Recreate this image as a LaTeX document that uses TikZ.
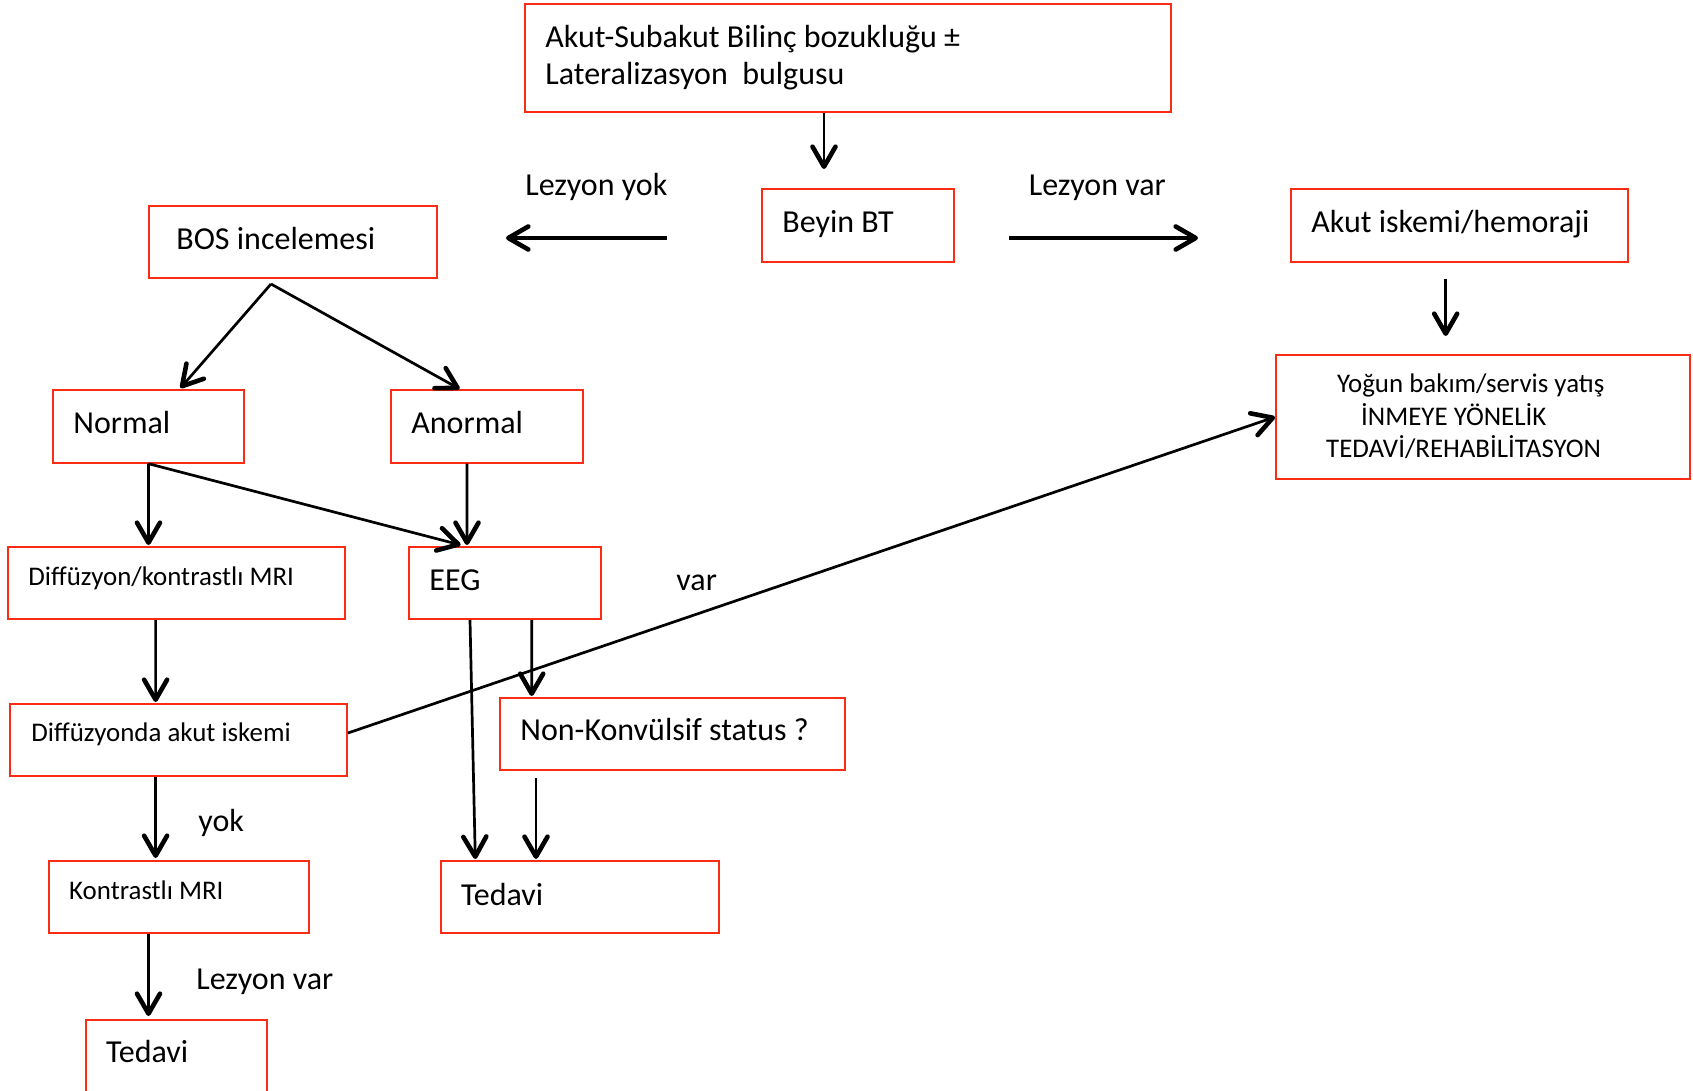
\documentclass[tikz,border=0pt]{standalone}
\usepackage{fontspec}
\setmainfont{Carlito}
\usetikzlibrary{arrows.meta,calc,fit}

\definecolor{boxred}{RGB}{250,45,20}
\newcommand{\bigfs}{\fontsize{16}{19}\selectfont}
\newcommand{\smallfs}{\fontsize{13.45}{16}\selectfont}

\tikzset{
  box/.style={draw=boxred, line width=1pt, inner sep=0pt, rectangle},
  lbl/.style={inner sep=0pt, anchor=base west, font=\bigfs},
  slbl/.style={inner sep=0pt, anchor=base west, font=\smallfs},
  arr/.style={line width=1.35pt,
    -{Straight Barb[length=10pt,width=11.5pt,line width=2.3pt,round]}},
  thickarr/.style={arr, line width=1.65pt},
}

\begin{document}
\begin{tikzpicture}[x=0.5pt,y=-0.5pt]
\useasboundingbox (0,0) rectangle (1693,1091);

% boxes
\node[box, fit={(525,4) (1171,112)}] (top) {};
\node[box, fit={(762,189) (954,262)}] (beyin) {};
\node[box, fit={(148.5,206) (437,278)}] (bos) {};
\node[box, fit={(1291,189) (1628,262)}] (akut) {};
\node[box, fit={(1276,355) (1690,479)}] (yogun) {};
\node[box, fit={(52.6,390) (244.4,462.7)}] (normal) {};
\node[box, fit={(391,390) (583,462.7)}] (anormal) {};
\node[box, fit={(8,547) (344.7,619)}] (diff1) {};
\node[box, fit={(408.7,547) (601,619)}] (eeg) {};
\node[box, fit={(10.3,704) (347,776)}] (diff2) {};
\node[box, fit={(500,698) (844.5,769.6)}] (nonk) {};
\node[box, fit={(441,860.7) (719,933)}] (tedavi2) {};
\node[box, fit={(48.8,861) (309,933)}] (kontr) {};
\node[box, fit={(85.6,1020) (266.7,1091.5)}] (tedavi1) {};

% box texts
\node[lbl] (ttop1) at (545,47.5) {Akut-Subakut Bilinç bozukluğu ±};
\node[lbl] (ttop2) at (545,84.5) {Lateralizasyon~ bulgusu};
\node[lbl] (tbeyin) at (782,232.5) {Beyin BT};
\node[lbl] (tbos) at (176,250) {BOS incelemesi};
\node[lbl] (takut) at (1311,232.5) {Akut iskemi/hemoraji};
\node[slbl] (tyogun1) at (1336.6,392.5) {Yoğun bakım/servis yatış};
\node[slbl] (tyogun2) at (1360.8,425) {İNMEYE YÖNELİK};
\node[slbl] (tyogun3) at (1325.8,457.5) {TEDAVİ/REHABİLİTASYON};
\node[lbl] (tnormal) at (73,433.5) {Normal};
\node[lbl] (tanormal) at (411,433.5) {Anormal};
\node[slbl] (tdiff1) at (28,585) {Diffüzyon/kontrastlı MRI};
\node[lbl] (teeg) at (429,590) {EEG};
\node[slbl] (tdiff2) at (31,741) {Diffüzyonda akut iskemi};
\node[lbl] (tnonk) at (520,740) {Non-Konvülsif status ?};
\node[lbl] (ttedavi2) at (460.7,905) {Tedavi};
\node[slbl] (tkontr) at (68.8,899) {Kontrastlı MRI};
\node[lbl] (ttedavi1) at (105.7,1062.5) {Tedavi};

% connector labels
\node[lbl] (lyok) at (525,195.5) {Lezyon yok};
\node[lbl] (lvar) at (1028.5,195.5) {Lezyon var};
\node[lbl] (lvar2) at (676,590.5) {var};
\node[lbl] (lyok2) at (198,831.5) {yok};
\node[lbl] (lvar3) at (196,989.5) {Lezyon var};

% free ends of the side arrows
\coordinate (lyA) at (667,238);
\coordinate (lyB) at (506,238);
\coordinate (lvA) at (1008.6,238);
\coordinate (lvB) at (1198,238);

% connectors
\draw[arr] ($(top.south)+(-24,0)$) -- ($(beyin.north)+(-34,-19)$);
\draw[thickarr] (lyA) -- (lyB);
\draw[thickarr] (lvA) -- (lvB);
\draw[arr] ($(akut.south)+(-13.8,16)$) -- ($(yogun.north)+(-37.3,-18)$);
\draw[arr] ($(bos.south)+(-21.75,5)$) -- ($(normal.north)+(32,-1)$);
\draw[arr] ($(bos.south)+(-21.75,5)$) -- ($(anormal.north)+(-27.4,0)$);
\draw[arr] (normal.south) -- ($(diff1.north)+(-27.85,-1)$);
\draw[arr] (normal.south) -- ($(eeg.north)+(-44.15,-1)$);
\draw[arr] ($(anormal.south)+(-20,0)$) -- ($(eeg.north)+(-37.85,-1)$);
\draw[arr] ($(diff1.south)+(-20.75,0)$) -- ($(diff2.north)+(-23.05,-1)$);
\draw[arr] ($(diff2.east)+(0,-7)$) -- (yogun.west);
\draw[arr] ($(eeg.south)+(-34.85,0)$) -- ($(tedavi2.north)+(-104.7,-0.7)$);
\draw[arr] ($(eeg.south)+(26.85,0)$) -- ($(nonk.north)+(-140.55,-1)$);
\draw[arr] ($(nonk.south)+(-136.25,7.4)$) -- ($(tedavi2.north)+(-44,-0.7)$);
\draw[arr] ($(diff2.south)+(-23.05,0)$) -- ($(kontr.north)+(-23.3,-2)$);
\draw[arr] ($(kontr.south)+(-30.4,0)$) -- ($(tedavi1.north)+(-27.65,-3)$);
\end{tikzpicture}
\end{document}
